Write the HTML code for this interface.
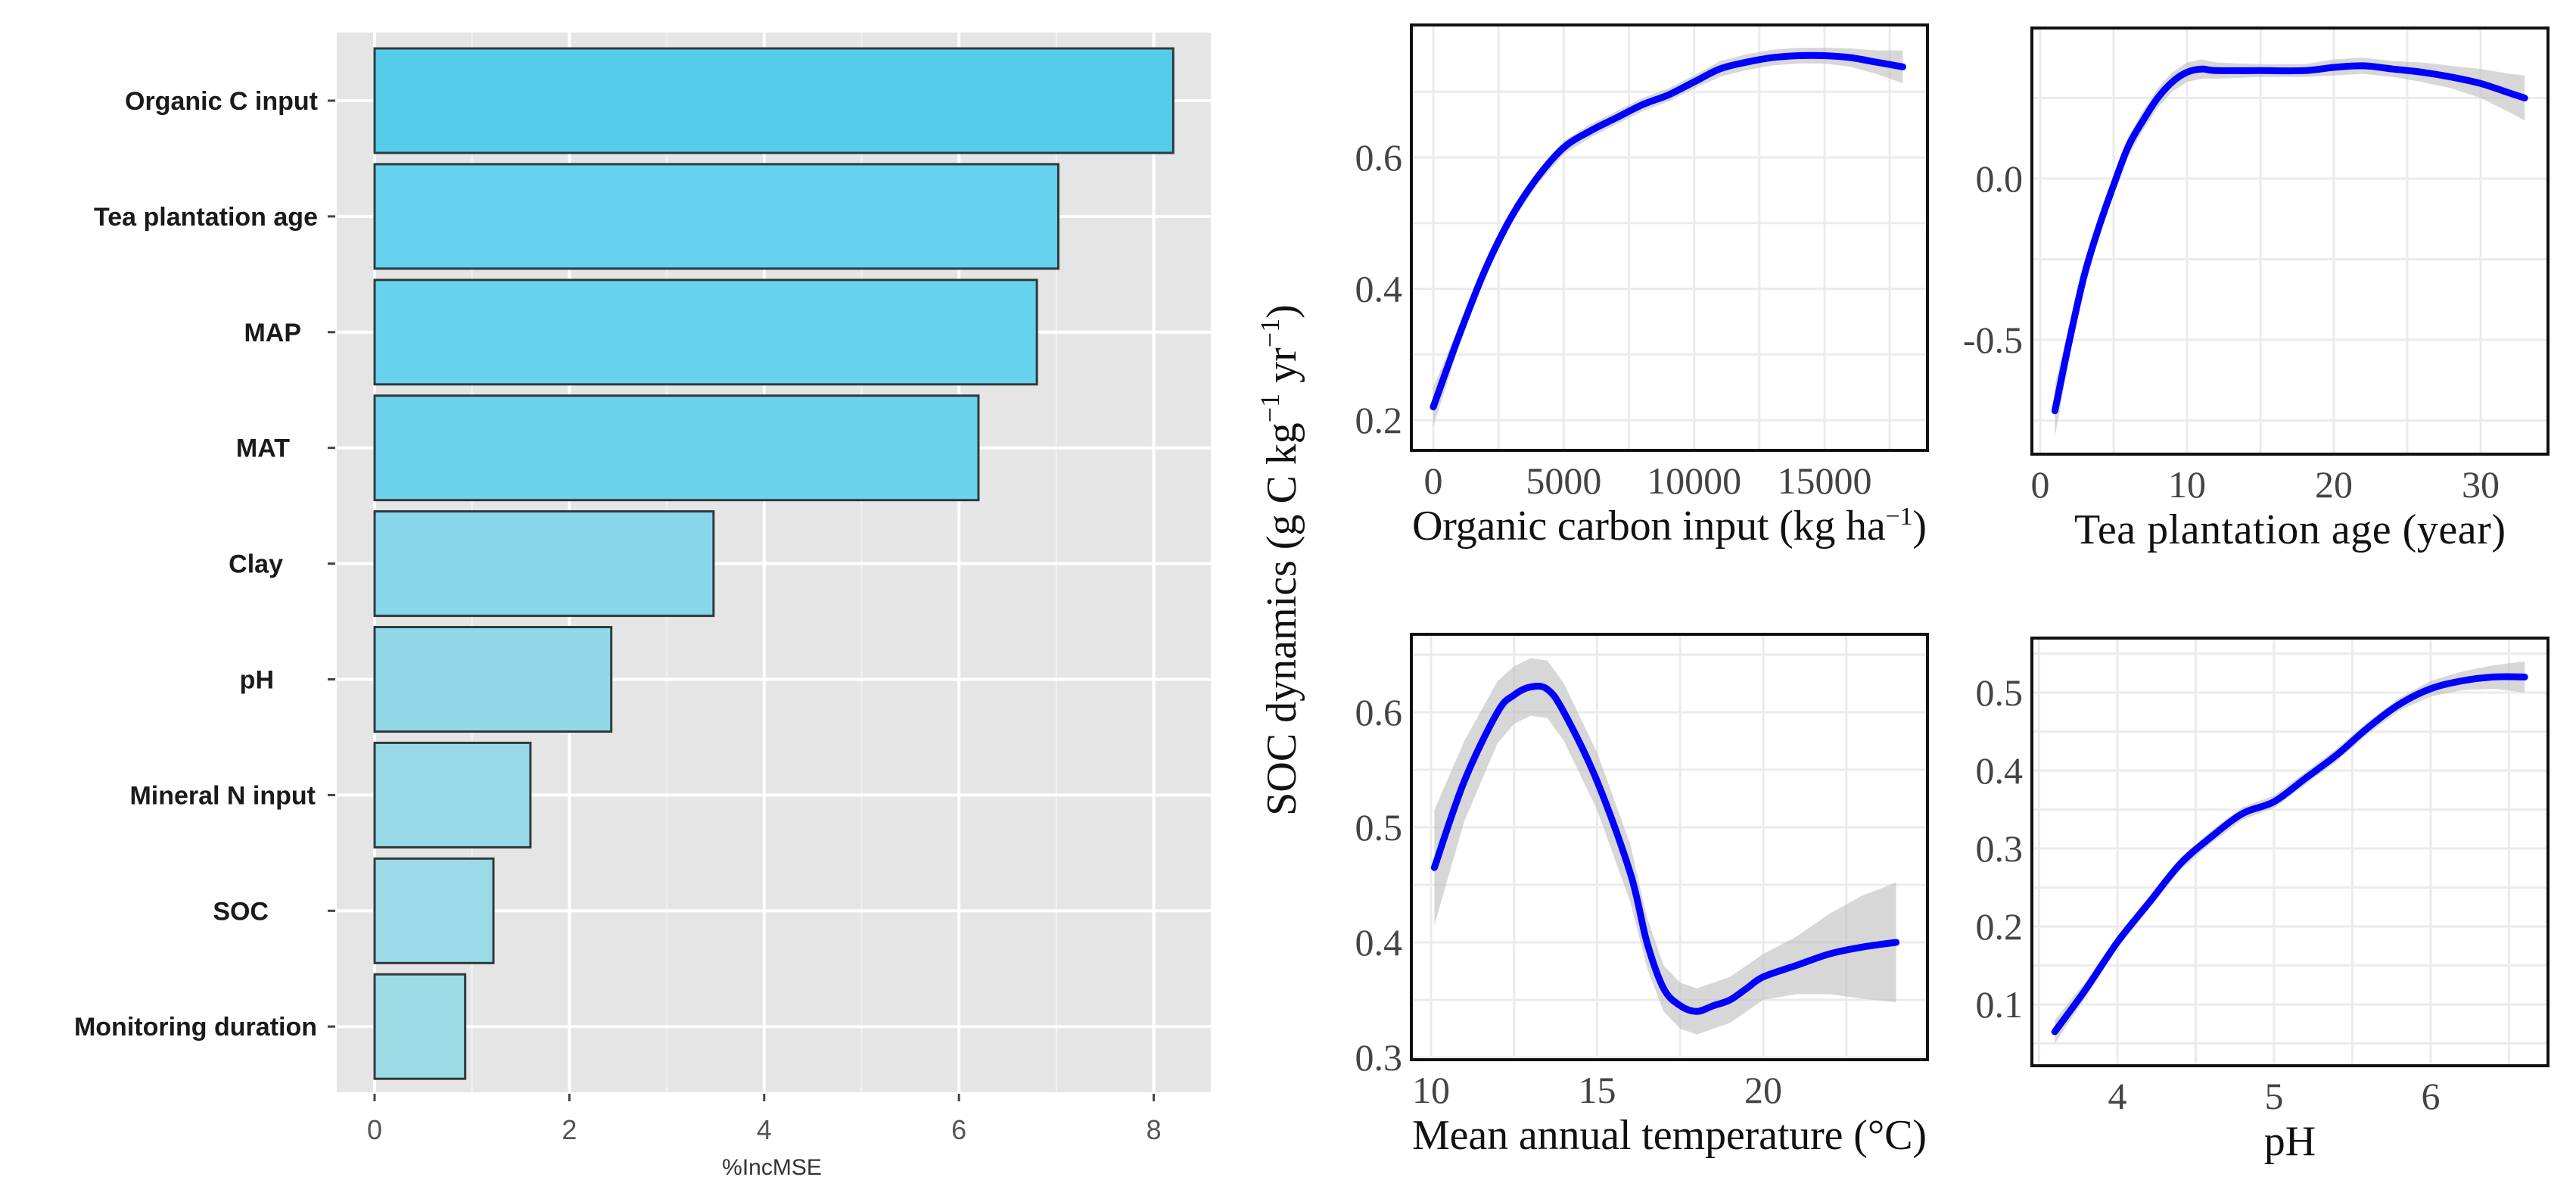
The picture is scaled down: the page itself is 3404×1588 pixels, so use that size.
<!DOCTYPE html>
<html><head><meta charset="utf-8"><style>
html,body{margin:0;padding:0;background:#fff;}
svg{display:block;}
</style></head><body>
<svg id="fig" width="3404" height="1588" viewBox="0 0 3404 1588" xmlns="http://www.w3.org/2000/svg">
<g id="left"></g>
<g id="right"></g>
<text transform="translate(1712,740) rotate(-90)" text-anchor="middle" font-family="Liberation Serif, serif" font-size="56" fill="#111">SOC dynamics (g C kg<tspan font-size="36" dy="-22">−1</tspan><tspan dy="22"> yr</tspan><tspan font-size="36" dy="-22">−1</tspan><tspan dy="22">)</tspan></text>
</svg>
<script>
const NS='http://www.w3.org/2000/svg';
function mk(parent,tag,attrs,text){const e=document.createElementNS(NS,tag);for(const k in attrs)e.setAttribute(k,attrs[k]);if(text!==undefined)e.textContent=text;parent.appendChild(e);return e;}

// ---------- Importance bar chart data ----------
const impCategories=["Organic C input","Tea plantation age","MAP","MAT","Clay","pH","Mineral N input","SOC","Monitoring duration"];
const impValues=[8.2,7.02,6.8,6.2,3.48,2.43,1.6,1.22,0.93];
const impColors=["#55cdea","#66d1ec","#67d2ec","#6bd3eb","#87d6ea","#92d8e8","#97d9e7","#9adae6","#9ddbe6"];
const impTicks=[0,2,4,6,8];
const impLabelRight=[420,420,398,383,374,362,417,355,419];

// ---------- Partial dependence data ----------
const p1X=[0,1000,2000,3000,4000,5000,6000,7000,8000,9000,10000,11000,12000,13000,14000,15000,16000,17000,18000];
const p1Y=[0.22,0.33,0.43,0.51,0.57,0.615,0.64,0.66,0.68,0.695,0.715,0.735,0.745,0.752,0.755,0.755,0.752,0.745,0.738];
const p1Se=[0.03,0.015,0.01,0.01,0.01,0.01,0.01,0.01,0.01,0.01,0.01,0.012,0.012,0.012,0.012,0.012,0.014,0.018,0.025];
const p1XTicks=[0,5000,10000,15000];
const p1YTicks=[0.2,0.4,0.6];

const p2X=[1,2,3,4,5,6,7,8,9,10,11,12,15,18,20,22,24,26,28,30,32,33];
const p2Y=[-0.72,-0.5,-0.3,-0.15,-0.02,0.1,0.18,0.25,0.3,0.33,0.34,0.335,0.335,0.335,0.345,0.35,0.34,0.33,0.315,0.295,0.265,0.25];
const p2Se=[0.08,0.05,0.04,0.03,0.03,0.03,0.03,0.03,0.03,0.03,0.03,0.025,0.02,0.02,0.025,0.025,0.025,0.03,0.035,0.045,0.06,0.07];
const p2XTicks=[0,10,20,30];
const p2YTicks=[-0.5,0.0];

const p3X=[10.1,11,12,12.5,13,13.5,14,15,16,16.5,17,17.5,18,18.5,19,19.5,20,21,22,23,24];
const p3Y=[0.465,0.54,0.6,0.615,0.622,0.62,0.6,0.54,0.46,0.4,0.36,0.345,0.34,0.345,0.35,0.36,0.37,0.38,0.39,0.396,0.4];
const p3Se=[0.05,0.035,0.027,0.025,0.025,0.025,0.025,0.025,0.025,0.022,0.02,0.02,0.02,0.02,0.02,0.02,0.02,0.025,0.035,0.045,0.052];
const p3XTicks=[10,15,20];
const p3YTicks=[0.3,0.4,0.5,0.6];

const p4X=[3.6,3.8,4.0,4.2,4.4,4.6,4.8,5.0,5.2,5.4,5.6,5.8,6.0,6.2,6.4,6.6];
const p4Y=[0.065,0.12,0.18,0.23,0.28,0.315,0.345,0.36,0.39,0.42,0.455,0.485,0.505,0.515,0.52,0.52];
const p4Se=[0.015,0.01,0.008,0.008,0.008,0.008,0.008,0.008,0.008,0.008,0.008,0.008,0.01,0.012,0.015,0.02];
const p4XTicks=[4,5,6];
const p4YTicks=[0.1,0.2,0.3,0.4,0.5];

// ---------- Draw importance chart ----------
(function(){
  const g=document.getElementById('left');
  const x0=445,x1=1600,y0=43,y1=1443;
  const zx=495, ux=128.7;
  const X=v=>zx+v*ux;
  const rowStep=152.9, row0=133, barH=138;
  const Y=i=>row0+i*rowStep;
  const bg=mk(g,'rect',{x:x0,y:y0,width:x1-x0,height:y1-y0,fill:'#e5e5e5'});
  
  
  for(let v=1;v<=9;v+=2){const xx=X(v);if(xx<x1){const l=mk(g,'line',{x1:xx,x2:xx,y1:y0,y2:y1,stroke:'#f2f2f2','stroke-width':2});}}
  impTicks.forEach(v=>{const l=mk(g,'line',{x1:X(v),x2:X(v),y1:y0,y2:y1,stroke:'#fff','stroke-width':4});});
  impCategories.forEach((c,i)=>{const l=mk(g,'line',{x1:x0,x2:x1,y1:Y(i),y2:Y(i),stroke:'#fff','stroke-width':4});});
  impCategories.forEach((c,i)=>{
    const r=mk(g,'rect',{x:X(0),y:Y(i)-barH/2,width:X(impValues[i])-X(0),height:barH,fill:impColors[i],stroke:'#2f3a3e','stroke-width':3});
    
    
    const t=mk(g,'text',{x:impLabelRight[i],y:Y(i)+12,'text-anchor':'end','font-family':'Liberation Sans, sans-serif','font-weight':'bold','font-size':34,fill:'#1a1a1a'},c);
    
    
    const tk=mk(g,'line',{x1:433,x2:443,y1:Y(i),y2:Y(i),stroke:'#444','stroke-width':3});
    
    
  });
  impTicks.forEach(v=>{
    const tk=mk(g,'line',{x1:X(v),x2:X(v),y1:y1+2,y2:y1+12,stroke:'#444','stroke-width':3});
    
    
    const t=mk(g,'text',{x:X(v),y:1505,'text-anchor':'middle','font-family':'Liberation Sans, sans-serif','font-size':36,fill:'#555'},String(v));
    
    
  });
  const tt=mk(g,'text',{x:1020,y:1552,'text-anchor':'middle','font-family':'Liberation Sans, sans-serif','font-size':30,fill:'#333'},'%IncMSE');
  
  
})();

// ---------- Draw partial dependence panels ----------
function panel(cfg){
  const g=mk(document.getElementById('right'),'g',{});
  
  
  const X=v=>cfg.xa+(v-cfg.xv0)*cfg.xs;
  const Y=v=>cfg.ya+(v-cfg.yv0)*cfg.ys;
  mk(g,'rect',{x:cfg.L,y:cfg.T,width:cfg.R-cfg.L,height:cfg.B-cfg.T,fill:'#fff'});
  const xstep=cfg.xTicks[1]-cfg.xTicks[0], ystep=cfg.yTicks[1]-cfg.yTicks[0];
  for(let v=cfg.xTicks[0]-xstep*1.5;v<cfg.xTicks[cfg.xTicks.length-1]+xstep*2;v+=xstep/2){
    const xx=X(v); if(xx<=cfg.L+2||xx>=cfg.R-2)continue;
    const l=mk(g,'line',{x1:xx,x2:xx,y1:cfg.T,y2:cfg.B,stroke:'#ebebeb','stroke-width':3});
    
    
  }
  for(let v=cfg.yTicks[0]-ystep*1.5;v<cfg.yTicks[cfg.yTicks.length-1]+ystep*2;v+=ystep/2){
    const yy=Y(v); if(yy<=cfg.T+2||yy>=cfg.B-2)continue;
    const l=mk(g,'line',{x1:cfg.L,x2:cfg.R,y1:yy,y2:yy,stroke:'#ebebeb','stroke-width':3});
    
    
  }
  let up=cfg.xs_.map((x,i)=>X(x).toFixed(1)+','+Y(cfg.ys_[i]+cfg.se[i]).toFixed(1));
  let lo=cfg.xs_.map((x,i)=>X(x).toFixed(1)+','+Y(cfg.ys_[i]-cfg.se[i]).toFixed(1)).reverse();
  const band=mk(g,'polygon',{points:up.concat(lo).join(' '),fill:'#bdbdbd','fill-opacity':0.6});
  
  
  const pts=cfg.xs_.map((x,i)=>[X(x),Y(cfg.ys_[i])]);
  let d='M'+pts[0][0]+','+pts[0][1];
  for(let i=0;i<pts.length-1;i++){
    const p0=pts[Math.max(0,i-1)],p1=pts[i],p2=pts[i+1],p3=pts[Math.min(pts.length-1,i+2)];
    const c1=[p1[0]+(p2[0]-p0[0])/6,p1[1]+(p2[1]-p0[1])/6];
    const c2=[p2[0]-(p3[0]-p1[0])/6,p2[1]-(p3[1]-p1[1])/6];
    d+=' C'+c1[0].toFixed(1)+','+c1[1].toFixed(1)+' '+c2[0].toFixed(1)+','+c2[1].toFixed(1)+' '+p2[0].toFixed(1)+','+p2[1].toFixed(1);
  }
  const ln=mk(g,'path',{d:d,fill:'none',stroke:'#0000ff','stroke-width':9,'stroke-linecap':'round','stroke-linejoin':'round'});
  
  
  const fr=mk(g,'rect',{x:cfg.L,y:cfg.T,width:cfg.R-cfg.L,height:cfg.B-cfg.T,fill:'none',stroke:'#111','stroke-width':4});
  
  
  cfg.xTicks.forEach(v=>{
    const t=mk(g,'text',{x:X(v),y:cfg.B+57,'text-anchor':'middle','font-family':'Liberation Serif, serif','font-size':50,fill:'#444'},String(v));
    
    
  });
  cfg.yTicks.forEach(v=>{
    const t=mk(g,'text',{x:cfg.L-12,y:Y(v)+17,'text-anchor':'end','font-family':'Liberation Serif, serif','font-size':50,fill:'#444'},v.toFixed(1));
    
    
  });
  const tt=mk(g,'text',{x:(cfg.L+cfg.R)/2,y:cfg.B+118,'text-anchor':'middle','font-family':'Liberation Serif, serif','font-size':56,fill:'#111'});
  tt.innerHTML=cfg.title;
  if(cfg.tlen)tt.setAttribute('textLength',cfg.tlen);
  
  
}
panel({name:'panel-organic-carbon',L:1865,R:2547,T:33,B:595,xa:1894,xv0:0,xs:(2411-1894)/15000,ya:208,yv0:0.6,ys:-867.5,
  xs_:p1X,ys_:p1Y,se:p1Se,xTicks:p1XTicks,yTicks:p1YTicks,title:'Organic carbon input (kg ha<tspan font-size="34" dy="-20">−1</tspan><tspan dy="20">)</tspan>',tlen:680});
panel({name:'panel-plantation-age',L:2685,R:3367,T:37,B:600,xa:2696,xv0:0,xs:(3278-2696)/30,ya:236,yv0:0,ys:-426,
  xs_:p2X,ys_:p2Y,se:p2Se,xTicks:p2XTicks,yTicks:p2YTicks,title:'Tea plantation age (year)',tlen:570});
panel({name:'panel-temperature',L:1865,R:2547,T:838,B:1400,xa:1891,xv0:10,xs:(2330-1891)/10,ya:941,yv0:0.6,ys:-1520,
  xs_:p3X,ys_:p3Y,se:p3Se,xTicks:p3XTicks,yTicks:p3YTicks,title:'Mean annual temperature (°C)',tlen:680});
panel({name:'panel-ph',L:2685,R:3367,T:843,B:1408,xa:2798,xv0:4,xs:207,ya:915,yv0:0.5,ys:-1030,
  xs_:p4X,ys_:p4Y,se:p4Se,xTicks:p4XTicks,yTicks:p4YTicks,title:'pH'});
</script>
</body></html>
